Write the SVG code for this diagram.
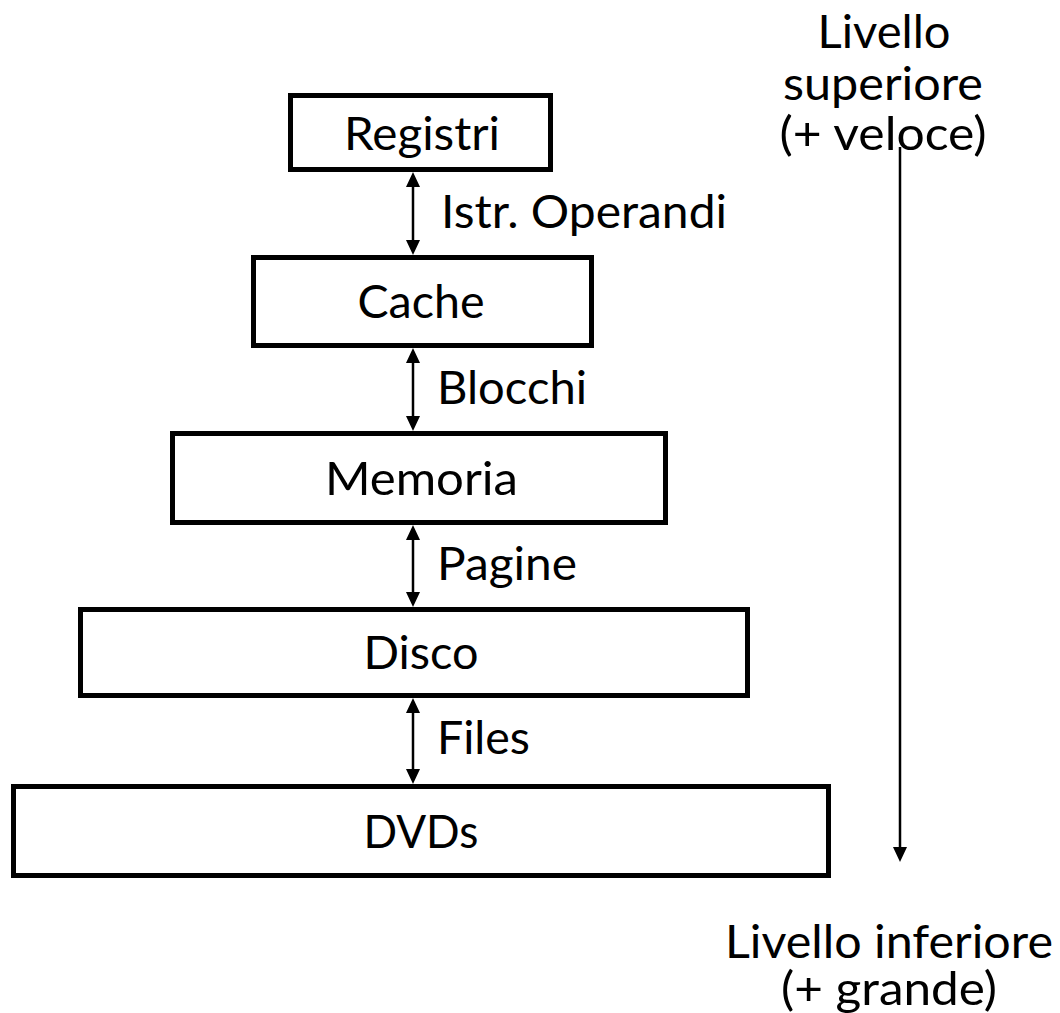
<svg xmlns="http://www.w3.org/2000/svg" width="1060" height="1013" viewBox="0 0 1060 1013">
  <style>
    .box { fill: #ffffff; stroke: #000000; stroke-width: 5; }
    .lbl { font-family: Lato, "Open Sans", "Liberation Sans", sans-serif; font-size: 47px; fill: #000000; }
    .mid { text-anchor: middle; }
    .link { stroke: #000000; stroke-width: 2.5; fill: none; }
  </style>
  <defs>
    <marker id="head" viewBox="0 0 15 14" refX="11" refY="7" markerWidth="15" markerHeight="14" markerUnits="userSpaceOnUse" orient="auto-start-reverse">
      <path d="M0,0 L15,7 L0,14 z" fill="#000000"/>
    </marker>
  </defs>

  <rect width="1060" height="1013" fill="#ffffff"/>

  <!-- memory hierarchy levels -->
  <g id="registri">
    <rect class="box" x="290.5" y="95.5" width="260" height="74"/>
    <text class="lbl mid" x="422" y="150" textLength="156" lengthAdjust="spacingAndGlyphs">Registri</text>
  </g>
  <g id="cache">
    <rect class="box" x="253.5" y="257.5" width="338" height="88"/>
    <text class="lbl mid" x="421" y="318" textLength="127" lengthAdjust="spacingAndGlyphs">Cache</text>
  </g>
  <g id="memoria">
    <rect class="box" x="172.5" y="433.5" width="493" height="89"/>
    <text class="lbl mid" x="421.5" y="495" textLength="193" lengthAdjust="spacingAndGlyphs">Memoria</text>
  </g>
  <g id="disco">
    <rect class="box" x="80.5" y="609.5" width="667" height="86"/>
    <text class="lbl mid" x="421" y="669" textLength="115" lengthAdjust="spacingAndGlyphs">Disco</text>
  </g>
  <g id="dvds">
    <rect class="box" x="13.5" y="786.5" width="815" height="89"/>
    <text class="lbl mid" x="421" y="848" textLength="115" lengthAdjust="spacingAndGlyphs">DVDs</text>
  </g>

  <!-- transfer units between levels -->
  <g id="transfer-labels">
    <text class="lbl" x="441" y="228" textLength="286" lengthAdjust="spacingAndGlyphs">Istr. Operandi</text>
    <text class="lbl" x="437" y="404" textLength="150" lengthAdjust="spacingAndGlyphs">Blocchi</text>
    <text class="lbl" x="437" y="580" textLength="140" lengthAdjust="spacingAndGlyphs">Pagine</text>
    <text class="lbl" x="437" y="754" textLength="93" lengthAdjust="spacingAndGlyphs">Files</text>
  </g>

  <!-- scale legend -->
  <g id="legend-top">
    <text class="lbl mid" x="884" y="48" textLength="133" lengthAdjust="spacingAndGlyphs">Livello</text>
    <text class="lbl mid" x="883" y="100" textLength="200" lengthAdjust="spacingAndGlyphs">superiore</text>
    <text class="lbl mid" x="883" y="150" textLength="207" lengthAdjust="spacingAndGlyphs">(+ veloce)</text>
  </g>
  <g id="legend-bottom">
    <text class="lbl mid" x="889" y="958" textLength="328" lengthAdjust="spacingAndGlyphs">Livello inferiore</text>
    <text class="lbl mid" x="889" y="1005" textLength="216" lengthAdjust="spacingAndGlyphs">(+ grande)</text>
  </g>

  <g id="connectors">
    <line class="link" x1="413" y1="176" x2="413" y2="251" marker-start="url(#head)" marker-end="url(#head)"/>
    <line class="link" x1="413" y1="352" x2="413" y2="427" marker-start="url(#head)" marker-end="url(#head)"/>
    <line class="link" x1="413" y1="529" x2="413" y2="603" marker-start="url(#head)" marker-end="url(#head)"/>
    <line class="link" x1="413" y1="702" x2="413" y2="780" marker-start="url(#head)" marker-end="url(#head)"/>
    <line class="link" x1="900" y1="147" x2="900" y2="858" marker-end="url(#head)"/>
  </g>
</svg>
